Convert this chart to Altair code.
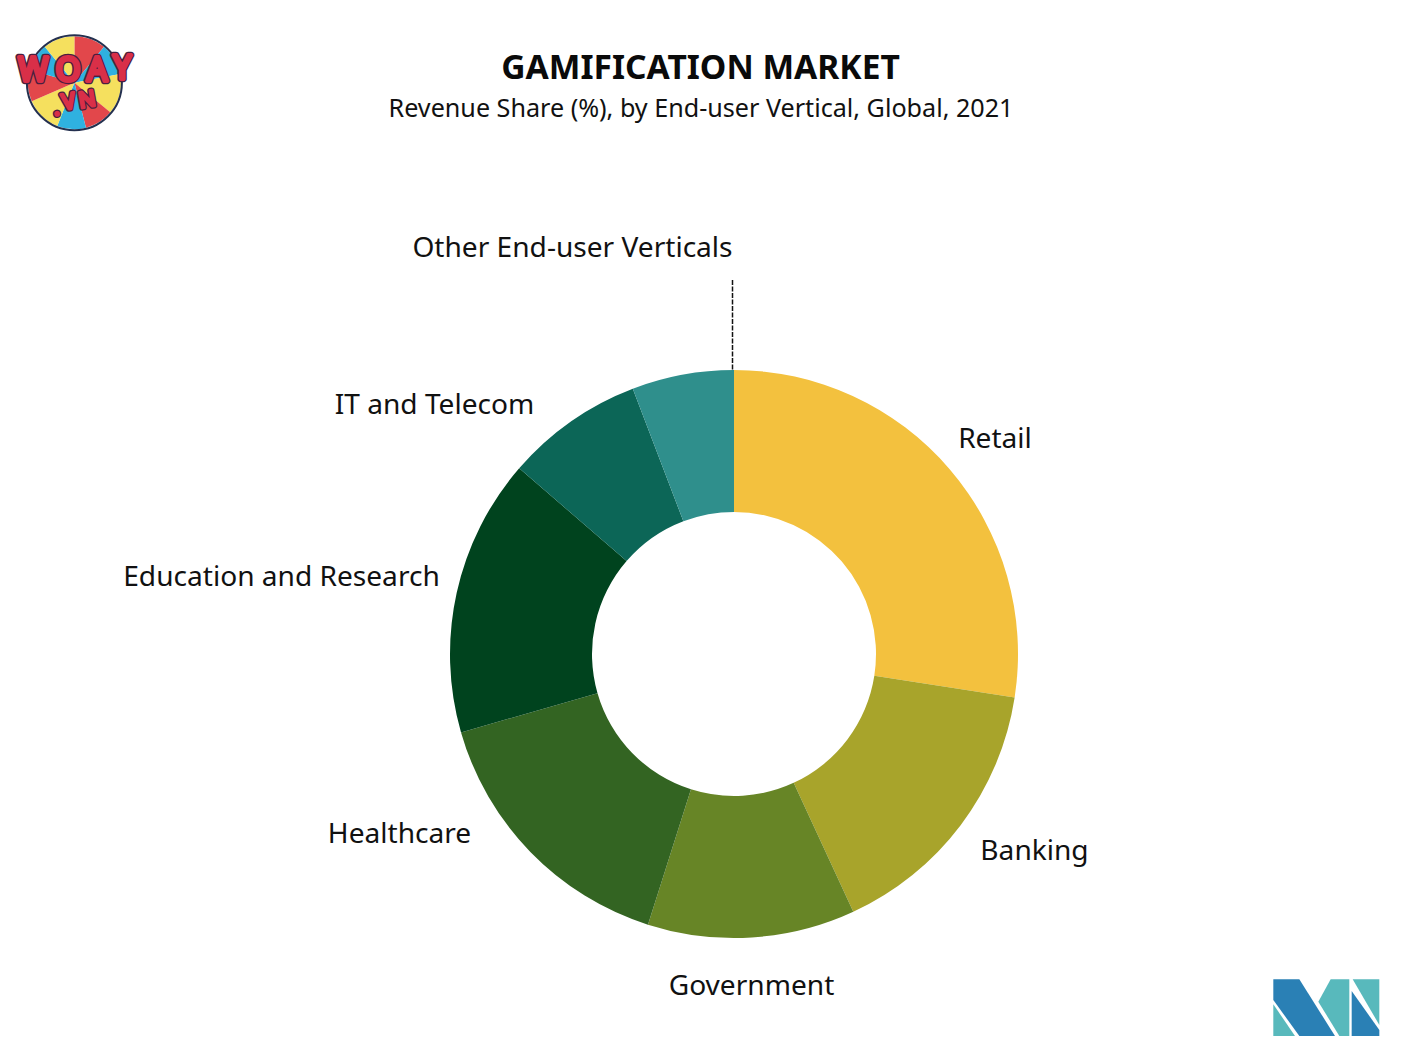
import altair as alt
import pandas as pd

# ---- chart data ----
categories = ["Retail", "Banking", "Government", "Healthcare",
              "Education and Research", "IT and Telecom", "Other End-user Verticals"]
shares = [27.45, 15.65, 11.8, 15.65, 15.8, 7.85, 5.8]
palette = ["#F3C13E", "#A8A42B", "#678526", "#336422", "#00431E", "#0C6657", "#2F8F8C"]

wheel_names = list("abcdefghi")
wheel_spans = [11, 11, 14, 10, 10, 12.5, 11, 9.5, 11]
wheel_kinds = ["red", "blue", "yellow", "red", "blue", "yellow", "red", "blue", "yellow"]

FONT = "Noto Sans"
W, H = 1394, 1033


def px(v):
    return v - 8


def text_layer(txt, x, y, size, weight="normal", **kw):
    return alt.Chart(pd.DataFrame({"t": [txt]})).mark_text(
        font=FONT, fontSize=size, fontWeight=weight, align="center", baseline="middle",
        color=kw.pop("color", "#111111"), **kw
    ).encode(text="t:N", x=alt.value(px(x)), y=alt.value(px(y)))


# donut
donut_df = pd.DataFrame({"cat": categories, "share": shares, "ord": range(len(categories))})
donut = alt.Chart(donut_df).mark_arc(radius=284, radius2=142).encode(
    theta=alt.Theta("share:Q", stack=True, scale=alt.Scale(domain=[0, 100], range=[0, 6.283185307])),
    color=alt.Color("cat:N", legend=None, scale=alt.Scale(domain=categories, range=palette)),
    order=alt.Order("ord:Q"),
    x=alt.value(px(734)), y=alt.value(px(654)),
)

# leader line
leader = alt.Chart(pd.DataFrame({"a": [0]})).mark_rule(
    color="#111111", strokeWidth=1.5, strokeDash=[5, 1.5]
).encode(x=alt.value(px(732.5)), y=alt.value(px(280)), y2=alt.value(px(370)))

# labels
labels = [
    ("Other End-user Verticals", 572.5, 249),
    ("IT and Telecom", 434.5, 406),
    ("Retail", 995, 440),
    ("Education and Research", 281.5, 578),
    ("Banking", 1034.5, 852),
    ("Healthcare", 399.5, 835),
    ("Government", 751.5, 987),
]
label_layers = [text_layer(t, x, y, 28.1) for t, x, y in labels]

title = text_layer("GAMIFICATION MARKET", 700.5, 69, 33.6, "bold", color="#0a0a0a")
subtitle = text_layer("Revenue Share (%), by End-user Vertical, Global, 2021", 701, 109, 25.15)

# WOAY.VN logo
wheel_df = pd.DataFrame({"n": wheel_names, "span": wheel_spans, "kind": wheel_kinds,
                         "ord": range(len(wheel_names))})
wheel = alt.Chart(wheel_df).mark_arc(radius=46.5, stroke=None).encode(
    theta=alt.Theta("span:Q", stack=True, scale=alt.Scale(domain=[0, 100], range=[0, 6.283185307])),
    color=alt.Color("kind:N", legend=None,
                    scale=alt.Scale(domain=["red", "blue", "yellow"],
                                    range=["#E2474B", "#2FB1E0", "#F5E05E"])),
    order=alt.Order("ord:Q"),
    x=alt.value(px(74.4)), y=alt.value(px(82.7)),
)
ring = alt.Chart(pd.DataFrame({"a": [0]})).mark_point(
    shape="circle", filled=False, stroke="#24304F", strokeWidth=2, size=95 ** 2, opacity=1
).encode(x=alt.value(px(74.4)), y=alt.value(px(82.7)))


def logo_text(txt, x, y, size, angle=0, outer=6.5, inner=3.6):
    return [
        text_layer(txt, x, y, size, "normal", color="#4A1F3F", stroke="#4A1F3F", strokeWidth=outer,
                   strokeJoin="round", angle=angle),
        text_layer(txt, x, y, size, "normal", color="#D92F48", stroke="#D92F48", strokeWidth=inner,
                   strokeJoin="round", angle=angle),
    ]


logo_layers = []
for ch, x, y in (("W", 33, 70.5), ("O", 68, 70.5), ("A", 97, 70.5), ("Y", 122, 69)):
    logo_layers += logo_text(ch, x, y, 32, outer=6.5, inner=3.8)
for ch, x, y in ((".", 56, 108), ("V", 68.5, 102), ("N", 87, 100)):
    logo_layers += logo_text(ch, x, y, 22, angle=350, outer=5.5, inner=3)

# MI logo (polygons in logo pixels, turned into a symbol path)
MI_SCALE = 160.0
MI_CX, MI_CY = 199.0, 128.0


def mi_path(points):
    parts = []
    for i, (x, y) in enumerate(points):
        parts.append(("M" if i == 0 else "L") + f"{(x - MI_CX) / MI_SCALE:.4f},{(y - MI_CY) / MI_SCALE:.4f}")
    return "".join(parts) + "Z"


mi_blue = [
    [(40, 43), (118, 43), (225, 213), (118, 213), (40, 105)],
    [(275, 78), (358, 195), (358, 213), (275, 213)],
]
mi_teal = [
    [(40, 118), (105, 213), (40, 213)],
    [(212, 43), (268, 43), (268, 213), (238, 213), (175, 110)],
    [(278, 43), (358, 43), (358, 180)],
]
mi_layers = []
for polys, col in ((mi_blue, "#2A80B5"), (mi_teal, "#58B9BC")):
    for p in polys:
        mi_layers.append(
            alt.Chart(pd.DataFrame({"a": [0]})).mark_point(
                shape=mi_path(p), filled=True, fill=col, stroke=None, opacity=1,
                size=(2 * MI_SCALE / 3) ** 2,
            ).encode(x=alt.value(px(1260 + MI_CX / 3)), y=alt.value(px(965 + MI_CY / 3)))
        )

chart = alt.layer(
    donut, leader, title, subtitle, *label_layers, wheel, ring, *logo_layers, *mi_layers
).resolve_scale(color="independent", theta="independent").properties(
    width=W, height=H, padding=0, autosize=alt.AutoSizeParams(type="none"),
    background="white",
).configure_view(stroke=None)

chart.save("out.html", embed_options={"renderer": "svg", "actions": False})
